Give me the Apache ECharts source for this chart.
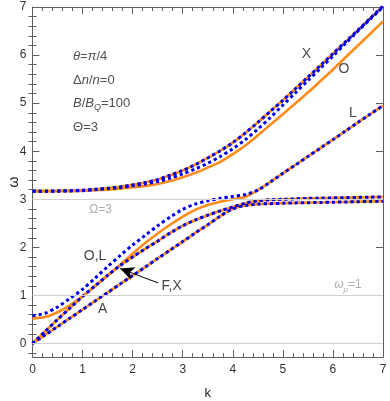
<!DOCTYPE html>
<html><head><meta charset="utf-8">
<script src="https://cdn.jsdelivr.net/npm/echarts@6/dist/echarts.min.js"></script>
<style>html,body{margin:0;padding:0;background:#fff}#c{width:390px;height:401px}</style>
</head><body><div id="c"></div>
<script>
const kValues = [0,0.25,0.5,0.75,1,1.25,1.5,1.75,2,2.25,2.5,2.75,3,3.25,3.5,3.75,4,4.25,4.5,4.75,5,5.25,5.5,5.75,6,6.25,6.5,6.75,7];
const upperX = [3.17,3.17,3.175,3.18,3.19,3.21,3.23,3.26,3.30,3.35,3.41,3.50,3.60,3.72,3.86,4.01,4.18,4.38,4.60,4.83,5.06,5.30,5.54,5.785,6.03,6.275,6.52,6.77,7.02];
const upperOBlue = [3.17,3.17,3.17,3.175,3.18,3.2,3.22,3.24,3.28,3.32,3.37,3.44,3.53,3.63,3.75,3.89,4.05,4.24,4.46,4.70,4.96,5.215,5.47,5.725,5.98,6.24,6.50,6.75,7.00];
const upperOOrange = [3.17,3.17,3.17,3.17,3.18,3.19,3.2,3.22,3.25,3.28,3.32,3.38,3.46,3.55,3.66,3.78,3.94,4.12,4.33,4.55,4.77,4.995,5.22,5.46,5.70,5.95,6.20,6.45,6.70];
const lowerOLOrange = [0.52,0.55,0.65,0.8,0.98,1.19,1.41,1.64,1.87,2.09,2.29,2.47,2.64,2.78,2.88,2.95,3.0,3.05,3.19,3.36,3.54,3.715,3.89,4.065,4.24,4.42,4.60,4.775,4.95];
const lowerOLBlue = [0.58,0.63,0.76,0.94,1.13,1.36,1.6,1.83,2.05,2.25,2.45,2.63,2.79,2.9,2.97,3.02,3.06,3.1,3.19,3.36,3.54,3.715,3.89,4.065,4.24,4.42,4.60,4.775,4.95];
const lowerFX = [0,0.25,0.5,0.74,0.98,1.2,1.42,1.62,1.8,1.97,2.13,2.3,2.45,2.57,2.67,2.76,2.84,2.92,2.97,2.99,3.0,3.01,3.02,3.025,3.03,3.035,3.04,3.045,3.05];
const lowerA = [0,0.177,0.354,0.53,0.707,0.884,1.06,1.237,1.414,1.59,1.77,1.945,2.12,2.3,2.47,2.65,2.8,2.87,2.9,2.91,2.92,2.925,2.93,2.935,2.94,2.945,2.95,2.955,2.96];

const xTickLabels = [0,1,2,3,4,5,6,7];
const yTickLabels = [0,1,2,3,4,5,6,7];
const refLines = [0, 1, 3];
const curveLabels = [
  {t:'X', k:5.47, w:6.02}, {t:'O', k:6.22, w:5.71}, {t:'L', k:6.4, w:4.79},
  {t:'O,L', k:1.25, w:1.82}, {t:'F,X', k:2.78, w:1.19}, {t:'A', k:1.4, w:0.71}
];
const paramLabels = [
  {t:'{i|θ}{n|=}{i|π}{n|/4}', k:0.81, w:5.98},
  {t:'{n|Δ}{i|n}{n|/}{i|n}{n|=0}', k:0.81, w:5.48},
  {t:'{i|B}{n|/}{i|B}{s|Q}{n|=100}', k:0.81, w:5.0},
  {t:'{n|Θ=3}', k:0.81, w:4.5}
];
const refLabels = [
  {t:'{g|Ω=3}', k:1.36, w:2.79},
  {t:'{gi|ω}{gs|p}{g|=1}', k:6.3, w:1.23}
];
const arrowFrom = [2.51, 1.26];
const arrowTo = [1.75, 1.56];

const Y_MIN = -0.28, Y_MAX = 7;
const yMinorTicks = [];
for (let v = -0.2; v < Y_MAX; v += 0.2) {
  const r = Math.round(v * 10) / 10;
  if (Math.abs(r - Math.round(r)) > 1e-6) yMinorTicks.push(r);
}

const ORANGE = '#FF8C1A';
const BLUE = '#0000E6';
const FONT = 'Liberation Sans, Arial, sans-serif';
const pairs = ys => kValues.map((k, i) => [k, ys[i]]);

function orangeLine(ys) {
  return {type:'line', data:pairs(ys), showSymbol:false, smooth:0.3, z:3, silent:true,
    lineStyle:{color:ORANGE, width:2.6}};
}
function blueLine(ys) {
  return {type:'line', data:pairs(ys), showSymbol:false, smooth:0.3, z:4, silent:true,
    lineStyle:{color:BLUE, width:3, type:[3.2,3], cap:'butt'}};
}
const rich = {
  n:{fontFamily:FONT, fontSize:13, color:'#222', lineHeight:18, verticalAlign:'middle'},
  i:{fontFamily:FONT, fontSize:13, color:'#222', fontStyle:'italic', lineHeight:18, verticalAlign:'middle'},
  s:{fontFamily:FONT, fontSize:9, color:'#222', fontStyle:'italic', lineHeight:12, verticalAlign:'bottom'},
  g:{fontFamily:FONT, fontSize:12, color:'#999', lineHeight:18, verticalAlign:'middle'},
  gi:{fontFamily:FONT, fontSize:12, color:'#999', fontStyle:'italic', lineHeight:18, verticalAlign:'middle'},
  gs:{fontFamily:FONT, fontSize:8, color:'#999', fontStyle:'italic', lineHeight:12, verticalAlign:'bottom'}
};

const frameColor = '#606060';
const lineOn = {show:true, onZero:false, lineStyle:{color:frameColor, width:1}};
const noSplit = {splitLine:{show:false}, minorSplitLine:{show:false}};

const xBase = (extra) => Object.assign({
  type:'value', min:0, max:7, interval:1, axisLine:lineOn,
  axisTick:{show:true, inside:true, length:7, lineStyle:{color:frameColor}},
  minorTick:{show:true, splitNumber:5, length:4, lineStyle:{color:frameColor}}
}, noSplit, extra);

const yMajor = (extra) => Object.assign({
  type:'value', min:Y_MIN, max:Y_MAX, axisLine:lineOn,
  axisTick:{show:true, inside:true, length:7, customValues:yTickLabels, lineStyle:{color:frameColor}},
  minorTick:{show:false}
}, noSplit, extra);

const yMinor = (pos) => Object.assign({
  type:'value', min:Y_MIN, max:Y_MAX, position:pos, axisLine:{show:false},
  axisTick:{show:true, inside:true, length:4, customValues:yMinorTicks, lineStyle:{color:frameColor}},
  axisLabel:{show:false}, minorTick:{show:false}
}, noSplit);

const chart = echarts.init(document.getElementById('c'), null, {renderer:'canvas'});
chart.setOption({
  animation:false,
  backgroundColor:'#fff',
  grid:{left:32.5, right:7, top:7, bottom:44, containLabel:false, outerBoundsMode:'none'},
  xAxis:[
    xBase({position:'bottom', name:'k', nameLocation:'middle', nameGap:30, nameMoveOverlap:false,
      nameTextStyle:{fontFamily:FONT, fontSize:13, color:'#222'},
      axisLabel:{fontFamily:FONT, fontSize:12, color:'#333', margin:7,
        formatter: v => xTickLabels.indexOf(v) >= 0 ? String(v) : ''}}),
    xBase({position:'top', axisLabel:{show:false}})
  ],
  yAxis:[
    yMajor({position:'left', name:'ω', nameLocation:'middle', nameGap:11, nameMoveOverlap:false,
      nameTextStyle:{fontFamily:FONT, fontSize:14, color:'#222'},
      axisLabel:{fontFamily:FONT, fontSize:12, color:'#333', margin:6, customValues:yTickLabels}}),
    yMajor({position:'right', axisLabel:{show:false}}),
    yMinor('left'),
    yMinor('right')
  ],
  series:[
    {type:'line', data:[], z:1, silent:true,
      markLine:{silent:true, symbol:'none', label:{show:false}, animation:false,
        lineStyle:{color:'#d0d0d0', width:1, type:'solid'},
        data: refLines.map(v => ({yAxis:v}))}},
    orangeLine(upperX), orangeLine(upperOOrange), orangeLine(lowerOLOrange), orangeLine(lowerFX), orangeLine(lowerA),
    blueLine(upperX), blueLine(upperOBlue), blueLine(lowerOLBlue), blueLine(lowerFX), blueLine(lowerA),
    {type:'scatter', symbolSize:0, z:10, silent:true,
      data: curveLabels.map(d => ({value:[d.k, d.w], label:{show:true, position:'inside', formatter:d.t,
        fontFamily:FONT, fontSize:14, color:'#111'}}))
        .concat(paramLabels.map(d => ({value:[d.k, d.w], label:{show:true, position:'right', distance:0, formatter:d.t, rich:rich}})))
        .concat(refLabels.map(d => ({value:[d.k, d.w], label:{show:true, position:'inside', formatter:d.t, rich:rich}}))),
      markLine:{silent:true, symbol:['none','arrow'], symbolSize:[10,14], label:{show:false}, animation:false,
        lineStyle:{color:'#000', width:1, type:'solid'},
        data:[[{coord:arrowFrom}, {coord:arrowTo}]]}}
  ]
});
</script></body></html>
